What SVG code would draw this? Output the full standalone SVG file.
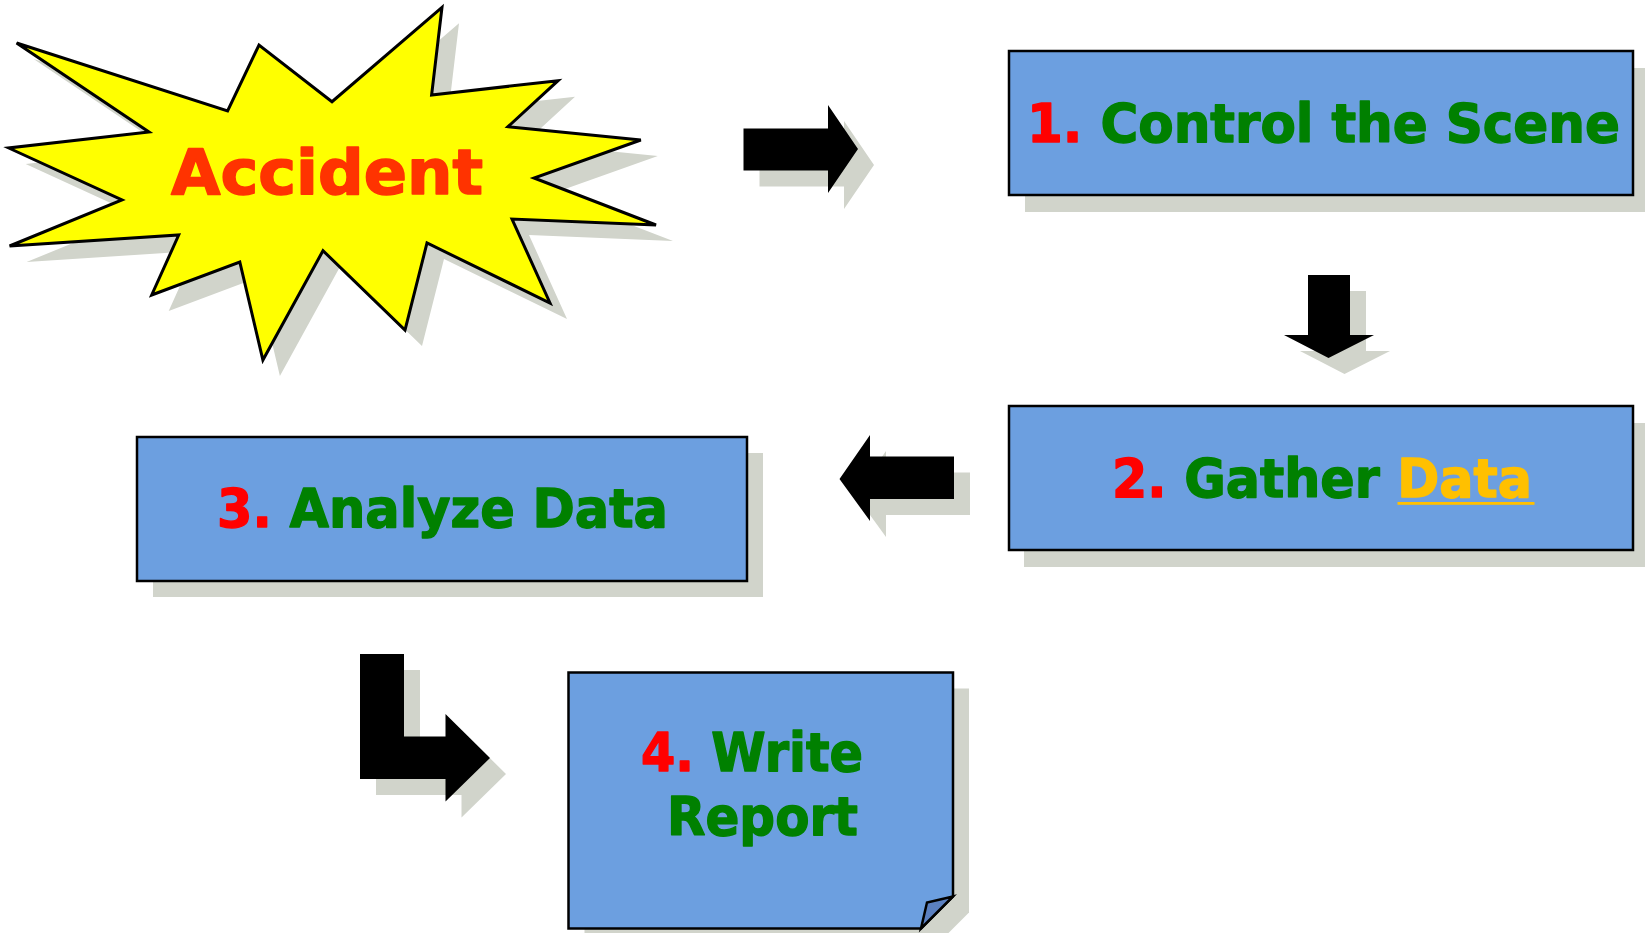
<svg xmlns="http://www.w3.org/2000/svg" width="1645" height="933" viewBox="0 0 1645 933">
  <style>
    .shadow { fill: #d1d4cb; }
    .box { fill: #6c9fe0; stroke: #000; stroke-width: 2.5; }
    .arrow { fill: #000; }
    .label { font-family: "DejaVu Sans", Verdana, sans-serif; font-weight: bold; font-size: 53px; stroke-width: 1.4; stroke-linejoin: round; }
    .num { fill: #ff0000; stroke: #ff0000; }
    .step { fill: #008000; stroke: #008000; }
    .link { fill: #ffc000; stroke: #ffc000; }
  </style>
  <defs>
    <polygon id="star" points="442,7.3 431.6,95 558,80.7 508,126.7 640.8,140 534,178 656,225 512,219 550,303 427,243 405,330 323,250.7 262.9,360 239.8,262 151.7,295 178.7,235 9.6,246 122,200 8.7,148 149,132 16.6,43 227.6,111 259,45 332,101.7"/>
    <polygon id="arrow-right" points="743.5,128.5 828,128.5 828,105 858,149 828,193 828,170.5 743.5,170.5"/>
    <polygon id="arrow-down" points="1308,275 1350,275 1350,335 1374,335 1328.5,358 1284,335 1308,335"/>
    <polygon id="arrow-left" points="839.5,479 870,435 870,456.5 954,456.5 954,499 870,499 870,521"/>
    <polygon id="arrow-turn" points="360,654 404,654 404,736.5 445.5,736.5 445.5,714 490,758 445.5,801.5 445.5,779 360,779"/>
    <path id="note" d="M568.5,672.5 H953 V896.5 L921,928.5 H568.5 Z"/>
  </defs>

  <rect width="1645" height="933" fill="#ffffff"/>

  <!-- Start: accident burst -->
  <g id="accident">
    <use href="#star" class="shadow" transform="translate(17,16)"/>
    <use href="#star" fill="#ffff00" stroke="#000" stroke-width="3" stroke-linejoin="miter"/>
    <text x="171" y="194" font-family="DejaVu Sans, Verdana, sans-serif" font-weight="bold" font-size="62" fill="#ff3300" stroke="#ff3300" stroke-width="1.6" stroke-linejoin="round" textLength="312" lengthAdjust="spacingAndGlyphs">Accident</text>
  </g>

  <!-- Step 1 -->
  <g id="step1">
    <rect class="shadow" x="1025" y="68" width="624" height="144"/>
    <rect class="box" x="1009" y="51" width="624" height="144"/>
    <text class="label" x="1027" y="142" textLength="593" lengthAdjust="spacingAndGlyphs"><tspan class="num">1.</tspan><tspan class="step"> Control the Scene</tspan></text>
  </g>

  <!-- Step 2 -->
  <g id="step2">
    <rect class="shadow" x="1024" y="423" width="624" height="144"/>
    <rect class="box" x="1009" y="406" width="624" height="144"/>
    <text class="label" x="1112" y="497" textLength="420" lengthAdjust="spacingAndGlyphs"><tspan class="num">2.</tspan><tspan class="step"> Gather </tspan><tspan class="link">Data</tspan></text>
    <rect x="1397.5" y="502" width="137" height="2.8" fill="#ffc000"/>
  </g>

  <!-- Step 3 -->
  <g id="step3">
    <rect class="shadow" x="153" y="453" width="610" height="144"/>
    <rect class="box" x="137" y="437" width="610" height="144"/>
    <text class="label" x="217" y="527" textLength="451" lengthAdjust="spacingAndGlyphs"><tspan class="num">3.</tspan><tspan class="step"> Analyze Data</tspan></text>
  </g>

  <!-- Step 4: report sheet with curled corner -->
  <g id="step4">
    <use href="#note" class="shadow" transform="translate(16,16)"/>
    <use href="#note" class="box"/>
    <path d="M921,928.5 L927,902.5 L953,896.5 Z" fill="#5b80c0" stroke="#000" stroke-width="2.5" stroke-linejoin="miter"/>
    <text class="label" x="641" y="771" textLength="222" lengthAdjust="spacingAndGlyphs"><tspan class="num">4.</tspan><tspan class="step"> Write</tspan></text>
    <text class="label step" x="667" y="835" textLength="191" lengthAdjust="spacingAndGlyphs">Report</text>
  </g>

  <!-- Flow arrows -->
  <g id="connectors">
    <use href="#arrow-right" class="shadow" transform="translate(16,16)"/>
    <use href="#arrow-right" class="arrow"/>
    <use href="#arrow-down" class="shadow" transform="translate(16,16)"/>
    <use href="#arrow-down" class="arrow"/>
    <use href="#arrow-left" class="shadow" transform="translate(16,16)"/>
    <use href="#arrow-left" class="arrow"/>
    <use href="#arrow-turn" class="shadow" transform="translate(16,16)"/>
    <use href="#arrow-turn" class="arrow"/>
  </g>
</svg>
